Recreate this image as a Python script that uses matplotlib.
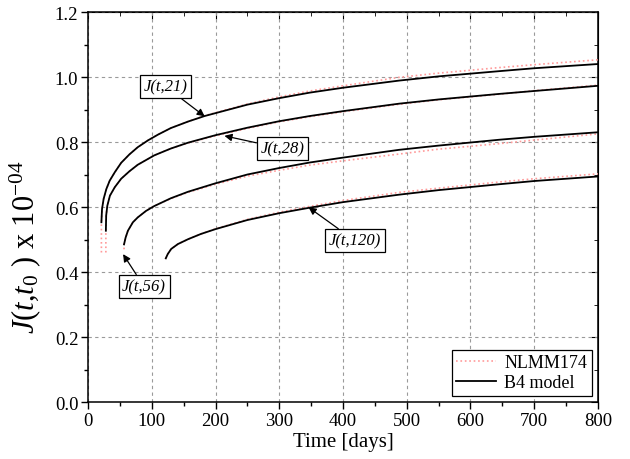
import matplotlib
matplotlib.use("Agg")
import matplotlib.pyplot as plt
from matplotlib.ticker import MultipleLocator

plt.rcParams['font.family'] = ['Liberation Serif', 'DejaVu Serif']
plt.rcParams['mathtext.fontset'] = 'custom'
plt.rcParams['mathtext.rm'] = 'Liberation Serif'
plt.rcParams['mathtext.it'] = 'Liberation Serif:italic'

## B4 model curves, time in days, J x 1e-04
t_21 = [21, 22, 24.5, 28.7, 34, 42, 52, 65, 78, 94, 110, 130, 157, 183,
        250, 300, 348, 400, 488, 550, 645, 700, 800]
b4_21 = [0.553, 0.594, 0.625, 0.655, 0.681, 0.707, 0.736, 0.762, 0.784, 0.805, 0.823, 0.843, 0.863, 0.880,
         0.915, 0.935, 0.952, 0.967, 0.989, 1.002, 1.018, 1.027, 1.040]
t_28 = [28, 28.5, 30.3, 34.4, 42, 52, 65, 78, 104, 130, 157, 200,
        250, 300, 348, 400, 488, 550, 645, 700, 800]
b4_28 = [0.527, 0.574, 0.604, 0.635, 0.661, 0.687, 0.710, 0.730, 0.759, 0.780, 0.798, 0.821,
         0.844, 0.864, 0.880, 0.895, 0.918, 0.931, 0.948, 0.957, 0.973]
t_56 = [56.5, 59, 62.6, 70.4, 78, 91, 104, 130, 157, 200,
        250, 300, 348, 400, 488, 550, 645, 700, 800]
b4_56 = [0.485, 0.506, 0.527, 0.553, 0.568, 0.588, 0.603, 0.627, 0.647, 0.673,
         0.700, 0.720, 0.737, 0.752, 0.776, 0.789, 0.807, 0.816, 0.830]
t_120 = [122, 125, 130.5, 141, 157, 177, 200, 250, 300, 348, 400, 488, 550, 645, 700, 800]
b4_120 = [0.442, 0.455, 0.471, 0.486, 0.501, 0.517, 0.532, 0.560, 0.581, 0.598,
          0.615, 0.638, 0.652, 0.670, 0.680, 0.694]

## NLMM174 curves (vertical jump at t0, then close to B4)
tn_21 = [21] + t_21
nl_21 = [0.46, 0.553, 0.594, 0.625, 0.655, 0.681, 0.707, 0.736, 0.762, 0.784, 0.805, 0.823, 0.843, 0.863, 0.881,
         0.917, 0.939, 0.957, 0.973, 0.999, 1.012, 1.029, 1.038, 1.053]
tn_28 = [28] + t_28
nl_28 = [0.46, 0.527, 0.574, 0.604, 0.635, 0.661, 0.687, 0.710, 0.730, 0.759, 0.780, 0.797, 0.819,
         0.842, 0.862, 0.878, 0.893, 0.916, 0.930, 0.947, 0.958, 0.975]
tn_56 = [56.5] + t_56
nl_56 = [0.47, 0.485, 0.506, 0.527, 0.553, 0.568, 0.588, 0.603, 0.626, 0.645, 0.670,
         0.695, 0.713, 0.729, 0.742, 0.763, 0.778, 0.795, 0.806, 0.825]
tn_120 = t_120
nl_120 = [0.442, 0.455, 0.471, 0.486, 0.501, 0.517, 0.533, 0.562, 0.584, 0.602,
          0.620, 0.645, 0.658, 0.677, 0.687, 0.702]

## labels: text, box centre (t, J), arrow tip (t, J)
labels = ['J(t,21)', 'J(t,28)', 'J(t,56)', 'J(t,120)']
label_pos = [(122, 0.970), (305, 0.780), (88, 0.355), (419, 0.496)]
arrow_tip = [(183, 0.879), (214, 0.819), (55, 0.455), (346, 0.599)]

fig = plt.figure(figsize=(6.3, 4.6), dpi=100)
ax = fig.add_axes([0.1397, 0.1239, 0.8095, 0.8478])

nl_color = '#ff9a9a'
ax.plot(tn_21, nl_21, color=nl_color, ls=':', lw=1.2, label='NLMM174', zorder=3)
ax.plot(tn_28, nl_28, color=nl_color, ls=':', lw=1.2, zorder=3)
ax.plot(tn_56, nl_56, color=nl_color, ls=':', lw=1.2, zorder=3)
ax.plot(tn_120, nl_120, color=nl_color, ls=':', lw=1.2, zorder=3)

ax.plot(t_21, b4_21, color='black', lw=1.3, label='B4 model', zorder=4)
ax.plot(t_28, b4_28, color='black', lw=1.3, zorder=4)
ax.plot(t_56, b4_56, color='black', lw=1.3, zorder=4)
ax.plot(t_120, b4_120, color='black', lw=1.3, zorder=4)

for txt, pos, tip in zip(labels, label_pos, arrow_tip):
    ax.annotate(txt, xy=tip, xytext=pos, ha='center', va='center',
                fontsize=12, fontstyle='italic', zorder=6,
                bbox=dict(boxstyle='square,pad=0.22', fc='white', ec='black', lw=0.9),
                arrowprops=dict(arrowstyle='-|>', color='black', lw=0.9,
                                mutation_scale=11, shrinkA=0, shrinkB=0))

ax.set_xlim(0, 800)
ax.set_ylim(0, 1.2)
ax.xaxis.set_major_locator(MultipleLocator(100))
ax.xaxis.set_minor_locator(MultipleLocator(50))
ax.yaxis.set_major_locator(MultipleLocator(0.2))
ax.yaxis.set_minor_locator(MultipleLocator(0.1))
ax.yaxis.set_major_formatter(plt.FormatStrFormatter('%.1f'))

ax.grid(True, which='major', color='#9a9a9a', ls=(0, (3, 3)), lw=0.8)
ax.tick_params(which='both', direction='out', labelsize=13.5, width=1.0, pad=2)
ax.tick_params(which='major', length=5)
ax.tick_params(which='minor', length=3)
for sp in ax.spines.values():
    sp.set_linewidth(1.1)

## inward ticks on the top and right side
ax_t = ax.secondary_xaxis('top')
ax_t.tick_params(which='both', direction='in', labeltop=False)
ax_t.xaxis.set_major_locator(MultipleLocator(100))
ax_t.xaxis.set_minor_locator(MultipleLocator(50))
ax_t.tick_params(which='major', length=5)
ax_t.tick_params(which='minor', length=3)
ax_r = ax.secondary_yaxis('right')
ax_r.tick_params(which='both', direction='in', labelright=False)
ax_r.yaxis.set_major_locator(MultipleLocator(0.2))
ax_r.yaxis.set_minor_locator(MultipleLocator(0.1))
ax_r.tick_params(which='major', length=5)
ax_r.tick_params(which='minor', length=3)

ax.set_xlabel('Time [days]', fontsize=15, labelpad=2)
ax.set_ylabel(r'$\mathit{J(t{,}t_0}$ ) x 10$^{\mathrm{-04}}$', fontsize=22)
ax.yaxis.set_label_coords(-0.088, 0.4)

leg = ax.legend(loc='lower right', fontsize=13, frameon=True, fancybox=False,
                edgecolor='black', framealpha=1, handlelength=2.2, handletextpad=0.45,
                borderpad=0.25, labelspacing=0.15, borderaxespad=0.35)
leg.get_frame().set_linewidth(0.9)

plt.savefig('out.png', dpi=100)
plt.close()
